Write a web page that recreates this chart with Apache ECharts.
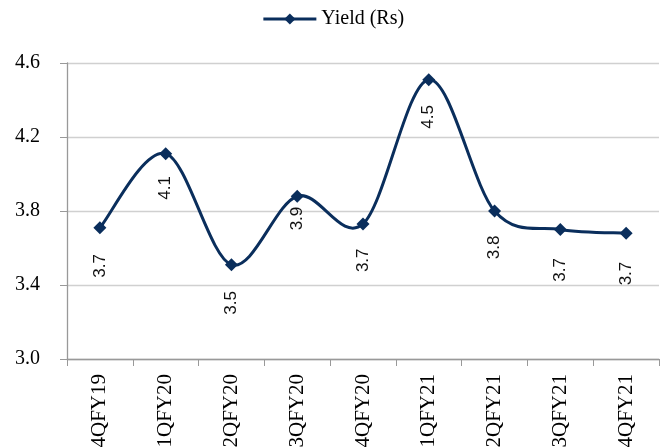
<!DOCTYPE html>
<html>
<head>
<meta charset="utf-8">
<script src="https://cdn.jsdelivr.net/npm/echarts@6/dist/echarts.min.js"></script>
<style>
html,body{margin:0;padding:0;background:#fff;}
#chart{width:666px;height:447px;}
</style>
</head>
<body>
<div id="chart"></div>
<script>
const categories = ['4QFY19','1QFY20','2QFY20','3QFY20','4QFY20','1QFY21','2QFY21','3QFY21','4QFY21'];
const yieldValues = [3.71, 4.11, 3.51, 3.88, 3.73, 4.51, 3.80, 3.70, 3.68];
const seriesName = 'Yield (Rs)';
const yTicks = [3.0, 3.4, 3.8, 4.2, 4.6];

// label offsets below each marker (styling only)
const labelDistance = [20, 16, 20, 4, 18, 19, 18, 22, 22];

const chart = echarts.init(document.getElementById('chart'));
const color = '#0a2e5c';
const n = yieldValues.length;

// Excel-like (Catmull-Rom) smoothed segment between point i and i+1
function renderSegment(params, api) {
  const i = params.dataIndex;
  if (i >= n - 1) return null;
  const P = k => {
    const j = Math.max(0, Math.min(n - 1, k));
    return api.coord([j, yieldValues[j]]);
  };
  const p0 = P(i - 1), p1 = P(i), p2 = P(i + 1), p3 = P(i + 2);
  return {
    type: 'bezierCurve',
    shape: {
      x1: p1[0], y1: p1[1], x2: p2[0], y2: p2[1],
      cpx1: p1[0] + (p2[0] - p0[0]) / 6, cpy1: p1[1] + (p2[1] - p0[1]) / 6,
      cpx2: p2[0] - (p3[0] - p1[0]) / 6, cpy2: p2[1] - (p3[1] - p1[1]) / 6
    },
    style: {stroke: color, lineWidth: 3, fill: null, lineCap: 'round'}
  };
}

chart.setOption({
  animation: false,
  legend: {
    top: 4,
    left: 'center',
    data: [seriesName],
    itemWidth: 53,
    itemHeight: 14,
    itemGap: 5,
    lineStyle: {opacity: 1, color: color, width: 3},
    textStyle: {fontFamily: 'Liberation Serif', fontSize: 20, color: '#000'}
  },
  grid: {left: 67, right: 7, top: 63, bottom: 88, outerBoundsMode: 'none', containLabel: false},
  xAxis: {
    type: 'category',
    data: categories,
    boundaryGap: true,
    axisLine: {lineStyle: {color: '#999', width: 1.3}},
    axisTick: {show: true, length: 7, lineStyle: {color: '#999'}},
    axisLabel: {rotate: 90, interval: 0, margin: 15, fontFamily: 'Liberation Serif', fontSize: 21, color: '#000'}
  },
  yAxis: {
    type: 'value',
    min: yTicks[0],
    max: yTicks[yTicks.length - 1],
    interval: 0.4,
    axisLine: {show: true, lineStyle: {color: '#999', width: 1.3}},
    axisTick: {show: true, length: 7, lineStyle: {color: '#999'}},
    splitLine: {show: true, lineStyle: {color: '#d0d0d0', width: 1.3}},
    axisLabel: {margin: 27, fontFamily: 'Liberation Serif', fontSize: 20, color: '#000',
      formatter: v => v.toFixed(1)}
  },
  series: [{
    type: 'custom',
    name: 'curve',
    silent: true,
    z: 1,
    data: yieldValues.map((v, i) => [i, v]),
    renderItem: renderSegment
  }, {
    name: seriesName,
    type: 'line',
    z: 3,
    symbol: 'diamond',
    symbolSize: 13,
    itemStyle: {color: color},
    lineStyle: {color: color, width: 3, opacity: 0},
    data: yieldValues.map((v, i) => ({
      value: v,
      label: {distance: labelDistance[i]}
    })),
    label: {
      show: true,
      position: 'bottom',
      rotate: 90,
      align: 'right',
      verticalAlign: 'middle',
      fontFamily: 'Liberation Sans',
      fontSize: 17,
      color: '#111',
      formatter: p => p.value.toFixed(1)
    }
  }]
});
</script>
</body>
</html>
